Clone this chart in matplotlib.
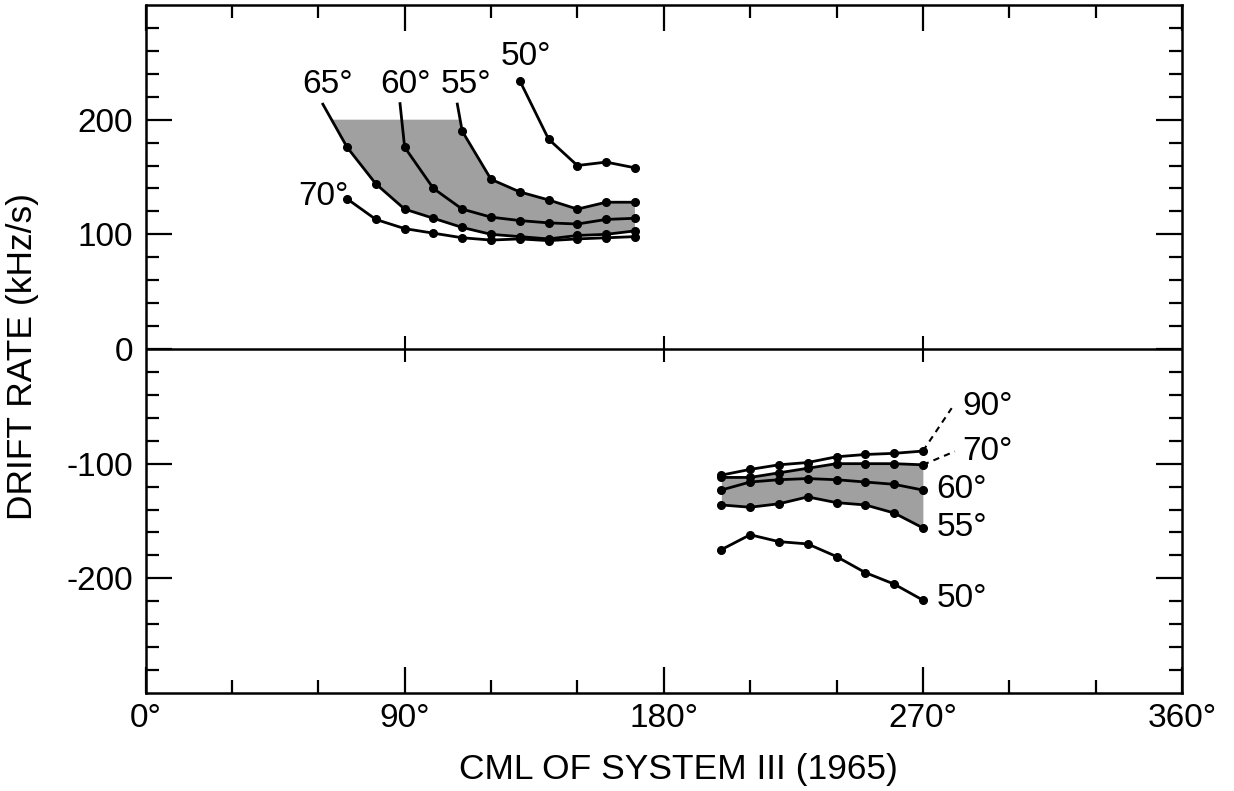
import numpy as np
import matplotlib
matplotlib.use('Agg')
import matplotlib.pyplot as plt

plt.rcParams['font.family'] = ['Liberation Sans', 'DejaVu Sans']

# upper panel (positive drift), CML in degrees
up_x_70 = [70, 80, 90, 100, 110, 120, 130, 140, 150, 160, 170]
up_70 = [131, 113, 105, 101, 97, 95, 96, 94.5, 96, 97, 98]
up_x_65 = [70, 80, 90, 100, 110, 120, 130, 140, 150, 160, 170]
up_65 = [176, 144, 122, 114, 106, 100, 98, 96, 99, 100, 103]
up_x_60 = [90, 100, 110, 120, 130, 140, 150, 160, 170]
up_60 = [176, 140, 122, 115, 112, 110, 109, 113, 114]
up_x_55 = [110, 120, 130, 140, 150, 160, 170]
up_55 = [190, 148, 137, 130, 122, 128, 128]
up_x_50 = [130, 140, 150, 160, 170]
up_50 = [234, 183, 160, 163, 158]

# lower panel (negative drift)
lo_x = [200, 210, 220, 230, 240, 250, 260, 270]
lo_90 = [-110, -105, -101, -99, -94, -92, -91, -89]
lo_70 = [-112, -112, -108, -104, -100, -100, -100, -101]
lo_60 = [-123, -116, -114, -113, -114, -116, -118, -123]
lo_55 = [-136, -138, -135, -129, -134, -136, -143, -156]
lo_50 = [-175, -162, -168, -170, -181, -195, -205, -219]

# label anchors (x, y) and where the leader lines start
up_labels = {'65°': (63.4, 231), '60°': (90.2, 231), '55°': (111.2, 231),
             '50°': (132, 255), '70°': (61.8, 133)}
lead_65 = (61.6, 213.5)
lead_60 = (88.4, 214)
lead_55 = (108.3, 213.6)
lo_labels = {'90°': (283.6, -50.4), '70°': (283.6, -89.3), '60°': (274.7, -122.6),
             '55°': (274.7, -155.4), '50°': (274.7, -218)}
dash_90 = (280, -51.6)
dash_70 = (281.1, -89.3)

shade_top = 200
fill_col = '#a0a0a0'

fig = plt.figure(figsize=(12.34, 7.91), dpi=100)
ax = fig.add_axes([145.5 / 1234, 1 - 693 / 791, (1182 - 145.5) / 1234, (693 - 5) / 791])

# shaded band in the upper panel, between 65 and 55 deg, cut at 200
x65_full = [lead_65[0]] + up_x_65
y65_full = [lead_65[1]] + up_65
x55_full = [lead_55[0]] + up_x_55
y55_full = [lead_55[1]] + up_55
x65_top = np.interp(shade_top, y65_full[:2][::-1], x65_full[:2][::-1])
x55_top = np.interp(shade_top, y55_full[:2][::-1], x55_full[:2][::-1])
poly_x = [x65_top] + up_x_65 + up_x_55[::-1] + [x55_top]
poly_y = [shade_top] + up_65 + up_55[::-1] + [shade_top]
ax.fill(poly_x, poly_y, color=fill_col, lw=0, zorder=1)

# shaded band in the lower panel
ax.fill_between(lo_x, lo_55, lo_70, color=fill_col, lw=0, zorder=1)

line_kw = dict(color='black', lw=2.0, marker='o', ms=5.5, zorder=3)
for xs, ys in [(up_x_70, up_70), (up_x_65, up_65), (up_x_60, up_60),
               (up_x_55, up_55), (up_x_50, up_50)]:
    ax.plot(xs, ys, **line_kw)
for ys in [lo_90, lo_70, lo_60, lo_55, lo_50]:
    ax.plot(lo_x, ys, **line_kw)

# leader lines from labels to curves
for lead, xs, ys in [(lead_65, up_x_65, up_65), (lead_60, up_x_60, up_60),
                     (lead_55, up_x_55, up_55)]:
    ax.plot([lead[0], xs[0]], [lead[1], ys[0]], color='black', lw=2.0, zorder=3)
ax.plot([lo_x[-1], dash_90[0]], [lo_90[-1], dash_90[1]], color='black', lw=1.5,
        ls=(0, (3, 2.5)), zorder=3)
ax.plot([lo_x[-1], dash_70[0]], [lo_70[-1], dash_70[1]], color='black', lw=1.5,
        ls=(0, (3, 2.5)), zorder=3)

for txt, (x, y) in up_labels.items():
    ax.text(x, y, txt, fontsize=24, ha='center', va='center')
for txt, (x, y) in lo_labels.items():
    ax.text(x, y, txt, fontsize=24, ha='left', va='center')

# zero line with crossing ticks
ax.axhline(0, color='black', lw=1.8, zorder=2)
ax.vlines([90, 180, 270], -11, 11, color='black', lw=1.5, zorder=2)

ax.set_xlim(0, 360)
ax.set_ylim(-300, 300)
xt = [0, 90, 180, 270, 360]
ax.set_xticks(xt)
ax.set_xticklabels([f'{v}°' for v in xt])
ax.set_xticks(np.arange(0, 361, 30), minor=True)
yt = [-200, -100, 0, 100, 200]
ax.set_yticks(yt)
ax.set_yticklabels([str(v) for v in yt])
ax.set_yticks(np.arange(-280, 281, 20), minor=True)
ax.tick_params(which='both', direction='in', top=True, right=True, width=1.6,
               labelsize=24)
ax.tick_params(which='major', length=18.5)
ax.tick_params(which='minor', length=9.5)
ax.tick_params(axis='x', pad=7)
ax.tick_params(axis='y', pad=9)
for s in ax.spines.values():
    s.set_linewidth(1.8)

fig.text(678 / 1234, 1 - 770 / 791, 'CML OF SYSTEM III (1965)', fontsize=25.5,
         ha='center', va='center')
fig.text(23 / 1234, 1 - 357 / 791, 'DRIFT RATE (kHz/s)', fontsize=25.5,
         ha='center', va='center', rotation=90)

fig.savefig('out.png', dpi=100)
